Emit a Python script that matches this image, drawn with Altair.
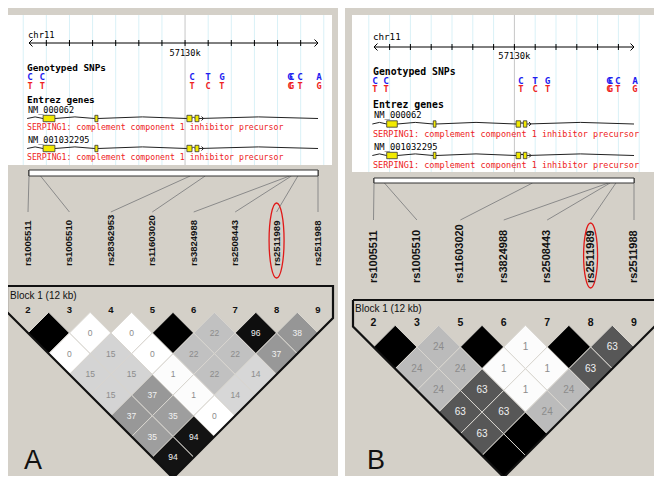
import altair as alt
import pandas as pd

# ---------------- data ----------------
chrom = "chr11"
region_kb = [57123.25, 57135.75]
grid_kb = list(range(57123, 57137))
tick_kb = list(range(57124, 57136))
center_kb = 57130
center_label = "57130k"

snp_kb = [57123.25, 57123.78, 57130.26, 57130.95, 57131.55, 57134.50, 57134.57, 57134.93, 57135.75]
allele_top = ["C", "C", "C", "T", "G", "G", "C", "C", "A"]
allele_bot = ["T", "T", "T", "C", "T", "C", "G", "T", "G"]

gene_ids = ["NM_000062", "NM_001032295"]
gene_desc = "SERPING1: complement component 1 inhibitor precursor"
gene_span_kb = [57123.17, 57135.75]
exon_start_kb = [57123.86, 57126.10, 57130.08, 57130.43]
exon_end_kb = [57124.37, 57126.23, 57130.30, 57130.60]
strand_arrow_kb = 57130.80

marker_names = ["rs1005511", "rs1005510", "rs28362953", "rs11603020",
                "rs3824988", "rs2508443", "rs2511989", "rs2511988"]
marker_kb = [57123.25, 57123.75, 57130.22, 57130.87, 57134.52, 57134.60, 57134.88, 57135.75]

markers_A = ["rs1005511", "rs1005510", "rs28362953", "rs11603020",
             "rs3824988", "rs2508443", "rs2511989", "rs2511988"]
numbers_A = ["2", "3", "4", "5", "6", "7", "8", "9"]
ld_A = [
    [100, 0, 0, 100, 22, 96, 38],
    [0, 15, 0, 22, 22, 37],
    [15, 15, 1, 22, 14],
    [15, 37, 1, 14],
    [37, 35, 0],
    [35, 94],
    [94],
]

markers_B = ["rs1005511", "rs1005510", "rs11603020",
             "rs3824988", "rs2508443", "rs2511989", "rs2511988"]
numbers_B = ["2", "3", "5", "6", "7", "8", "9"]
ld_B = [
    [100, 24, 100, 1, 100, 63],
    [24, 24, 1, 1, 63],
    [24, 63, 1, 24],
    [63, 63, 24],
    [63, 100],
    [100],
]

highlight = "rs2511989"
block_label = "Block 1 (12 kb)"
panel_letters = ["A", "B"]

# ---------------- layout ----------------
GREY = "#d4d0c8"
GRID = "#d9f1f7"
CENTER = "#c6c6c6"
BLUE = "#1f1ff0"
RED = "#ee2222"

P = {
    "A": dict(bg=(0, 338), box=(8, 332, 15, 165), ax=(29, 318), ay=43, chr_y=35, k_y=53,
              gen_y=68, top_y=77, bot_y=86, ent_y=100, nm_y=(110, 140), g_y=(118.5, 148.5),
              r_y=(128, 158), mono=8.2, head=9.4, allele=9.2, tx=27,
              strip=(170, 176), conn_y=212, lab_y=266, lab_fs=9.5, lab_x=(28, 318),
              ell_y=240.5, ell_hh=37.5, ell_hw=7.5,
              out_top=286, out_x=(7, 333), blk=(10, 296), num_y=310, row1=333,
              cell_fs=8.5, num_fs=9.5, letter=(33, 461),
              markers=markers_A, numbers=numbers_A, ld=ld_A),
    "B": dict(bg=(345, 662), box=(352, 656, 15, 172), ax=(374, 634), ay=47, chr_y=37, k_y=56,
              gen_y=71.5, top_y=80.5, bot_y=89, ent_y=105, nm_y=(115, 147), g_y=(124, 155.5),
              r_y=(134, 165), mono=8.5, head=9.8, allele=9.4, tx=373,
              strip=(178, 183), conn_y=220, lab_y=283, lab_fs=11, lab_x=(373.5, 634),
              ell_y=255.5, ell_hh=32.5, ell_hw=7,
              out_top=300, out_x=(353, 656), blk=(355, 309), num_y=323, row1=347,
              cell_fs=10, num_fs=10.5, letter=(376, 461),
              markers=markers_B, numbers=numbers_B, ld=ld_B),
}

bg_rects, grid_segs, segs, fg_rects, texts, cells, outline = [], [], [], [], [], [], []
shapes = []


def T(x, y, s, style, size, color="#000000"):
    texts.append(dict(x=x, y=y, text=s, style=style, size=size, color=color))


for pi, (p, c) in enumerate(P.items()):
    a0, a1 = c["ax"]

    def gx(kb, a0=a0, a1=a1):
        return a0 + (kb - region_kb[0]) / (region_kb[1] - region_kb[0]) * (a1 - a0)

    bg_rects.append(dict(x=c["bg"][0], x2=c["bg"][1], y=0, y2=484, fill=GREY, stroke="transparent", sw=0))
    bx0, bx1, by0, by1 = c["box"]
    bg_rects.append(dict(x=bx0, x2=bx1, y=by0, y2=by1, fill="#ffffff", stroke="transparent", sw=0))
    for kb in grid_kb:
        grid_segs.append(dict(x=gx(kb), x2=gx(kb), y=by0, y2=by1,
                              color=CENTER if kb == center_kb else GRID, w=1))
    ay = c["ay"]
    segs.append(dict(x=a0, x2=a1, y=ay, y2=ay, color="#000000", w=1))
    for kb in tick_kb:
        segs.append(dict(x=gx(kb), x2=gx(kb), y=ay - 3, y2=ay + 3, color="#000000", w=1))
    shapes.append(dict(x=a0, y=ay, shape="M 1 -1 L 0 0 L 1 1", size=49, stroke="#000000", w=1))
    shapes.append(dict(x=a1, y=ay, shape="M -1 -1 L 0 0 L -1 1", size=49, stroke="#000000", w=1))
    T(a0 - 1, c["chr_y"], chrom, "mono", c["mono"] + 0.7)
    T(gx(center_kb), c["k_y"], center_label, "monoc", c["mono"] + 0.4)
    T(c["tx"], c["gen_y"], "Genotyped SNPs", "monob", c["head"])
    for kb, t, b in zip(snp_kb, allele_top, allele_bot):
        T(gx(kb) + 1, c["top_y"], t, "allele", c["allele"], BLUE)
        T(gx(kb) + 1, c["bot_y"], b, "allele", c["allele"] - 0.6, RED)
    T(c["tx"], c["ent_y"], "Entrez genes", "monob", c["head"])
    for gi, gid in enumerate(gene_ids):
        gy = c["g_y"][gi]
        T(c["tx"] + 1, c["nm_y"][gi], gid, "mono", c["mono"] + 0.3)
        T(c["tx"], c["r_y"][gi], gene_desc, "mono", c["mono"], RED)
        bounds = [gene_span_kb[0]] + [v for pair in zip(exon_start_kb, exon_end_kb) for v in pair] + [gene_span_kb[1]]
        for k in range(0, len(bounds), 2):
            s, e = gx(bounds[k]), gx(bounds[k + 1])
            m = (s + e) / 2
            segs.append(dict(x=s, x2=m, y=gy, y2=gy - 1.6, color="#222222", w=1))
            segs.append(dict(x=m, x2=e, y=gy - 1.6, y2=gy, color="#222222", w=1))
        for s, e in zip(exon_start_kb, exon_end_kb):
            fg_rects.append(dict(x=gx(s), x2=gx(e), y=gy - 3.2, y2=gy + 3.2, fill="#f2ea00", stroke="#333333", sw=0.8))
        shapes.append(dict(x=gx(strand_arrow_kb), y=gy, shape="M -1 -1 L 0 0 L -1 1", size=16,
                           stroke="#222222", w=1))
    mk = c["markers"]
    n = len(mk)
    kbs = [marker_kb[marker_names.index(m)] for m in mk]
    s0, s1 = c["strip"]
    fg_rects.append(dict(x=gx(kbs[0]), x2=gx(kbs[-1]), y=s0, y2=s1, fill="#ffffff", stroke="#333333", sw=1))
    lx0, lx1 = c["lab_x"]
    sp = (lx1 - lx0) / (n - 1)
    xs = [lx0 + i * sp for i in range(n)]
    for i, m in enumerate(mk):
        segs.append(dict(x=gx(kbs[i]), x2=gx(kbs[i]), y=s0, y2=s1, color="#111111", w=1))
        segs.append(dict(x=gx(kbs[i]), x2=xs[i], y=s1, y2=c["conn_y"], color="#8a8a8a", w=1))
        T(xs[i], c["lab_y"], m, "rs", c["lab_fs"], "#111111")
        T(xs[i], c["num_y"], c["numbers"][i], "num", c["num_fs"], "#111111")
        if m == highlight:
            r = c["ell_hw"] / c["ell_hh"]
            shapes.append(dict(x=xs[i], y=c["ell_y"],
                               shape=f"M {-r:.3f} 0 A {r:.3f} 1 0 1 0 {r:.3f} 0 A {r:.3f} 1 0 1 0 {-r:.3f} 0 Z",
                               size=(2 * c["ell_hh"]) ** 2, stroke="#e01818", w=1.3))
    half = sp / 2
    for k, row in enumerate(c["ld"], start=1):
        for i, v in enumerate(row):
            j = i + k
            cells.append(dict(x=(xs[i] + xs[j]) / 2, y=c["row1"] + (k - 1) * half, v=v,
                              size=(2 * half) ** 2, label="" if v >= 100 else str(v),
                              tcolor="#f2f2f2" if v >= 30 else "#8c8c8c", fs=c["cell_fs"]))
    apx, apy = (xs[0] + xs[-1]) / 2, c["row1"] + (n - 1) * half
    xl, xr = c["out_x"]
    top = c["out_top"]
    pts = [(xl, top), (xr, top), (xr, apy - (xr - apx)), (apx, apy), (xl, apy - (apx - xl)), (xl, top)]
    for o, (x, y) in enumerate(pts):
        outline.append(dict(panel=p, x=x, y=y, o=o))
    T(c["blk"][0], c["blk"][1], block_label, "sans", 10, "#111111")
    T(c["letter"][0], c["letter"][1], panel_letters[pi], "big", 27, "#111111")

# ---------------- chart ----------------
X = alt.X("x:Q", scale=alt.Scale(domain=[8, 654], nice=False, zero=False), axis=None)
Y = alt.Y("y:Q", scale=alt.Scale(domain=[8, 476], nice=False, zero=False, reverse=True), axis=None)


def rect_layer(rows):
    return alt.Chart(pd.DataFrame(rows)).mark_rect(clip=True).encode(
        x=X, x2="x2:Q", y=Y, y2="y2:Q",
        fill=alt.Fill("fill:N", scale=None),
        stroke=alt.Stroke("stroke:N", scale=None),
        strokeWidth=alt.StrokeWidth("sw:Q", scale=None))


def seg_layer(rows):
    return alt.Chart(pd.DataFrame(rows)).mark_rule(clip=True).encode(
        x=X, x2="x2:Q", y=Y, y2="y2:Q",
        color=alt.Color("color:N", scale=None),
        strokeWidth=alt.StrokeWidth("w:Q", scale=None))


layers = [rect_layer(bg_rects), seg_layer(grid_segs), seg_layer(segs), rect_layer(fg_rects)]

for sh in shapes:
    layers.append(alt.Chart(pd.DataFrame([dict(x=sh["x"], y=sh["y"])])).mark_point(
        shape=sh["shape"], size=sh["size"], filled=False, stroke=sh["stroke"],
        strokeWidth=sh["w"], opacity=1).encode(x=X, y=Y))

cdf = pd.DataFrame(cells)
layers.append(alt.Chart(cdf).mark_point(shape="diamond", filled=True, opacity=1,
                                        stroke="#d9d6d0", strokeWidth=1).encode(
    x=X, y=Y,
    fill=alt.Fill("v:Q", scale=alt.Scale(domain=[0, 100], range=["#ffffff", "#000000"]), legend=None),
    size=alt.Size("size:Q", scale=None)))
layers.append(alt.Chart(cdf).mark_text(font="Liberation Sans", align="center", baseline="middle").encode(
    x=X, y=Y, text="label:N",
    color=alt.Color("tcolor:N", scale=None),
    size=alt.Size("fs:Q", scale=None)))

layers.append(alt.Chart(pd.DataFrame(outline)).mark_line(
    color="#111111", strokeWidth=2.2, strokeJoin="miter").encode(
    x=X, y=Y, order="o:Q", detail="panel:N"))

styles = {
    "mono": dict(font="DejaVu Sans Mono", fontWeight="normal", align="left", baseline="middle"),
    "monoc": dict(font="DejaVu Sans Mono", fontWeight="normal", align="center", baseline="middle"),
    "monob": dict(font="DejaVu Sans Mono", fontWeight="bold", align="left", baseline="middle"),
    "allele": dict(font="DejaVu Sans Mono", fontWeight="bold", align="center", baseline="middle"),
    "rs": dict(font="Liberation Sans", fontWeight="bold", align="left", baseline="middle", angle=270),
    "num": dict(font="Liberation Sans", fontWeight="bold", align="center", baseline="middle"),
    "sans": dict(font="Liberation Sans", fontWeight="normal", align="left", baseline="middle"),
    "big": dict(font="Liberation Sans", fontWeight="normal", align="center", baseline="middle"),
}
tdf = pd.DataFrame(texts)
for st, props in styles.items():
    sub = tdf[tdf["style"] == st]
    if len(sub) == 0:
        continue
    layers.append(alt.Chart(sub).mark_text(**props).encode(
        x=X, y=Y, text="text:N",
        size=alt.Size("size:Q", scale=None),
        color=alt.Color("color:N", scale=None)))

chart = alt.layer(*layers).properties(
    width=646, height=468,
    autosize=alt.AutoSizeParams(type="none"),
    padding=0, background="#ffffff",
).configure_view(stroke=None)

chart.save("out.html", embed_options={"renderer": "svg", "actions": False})
